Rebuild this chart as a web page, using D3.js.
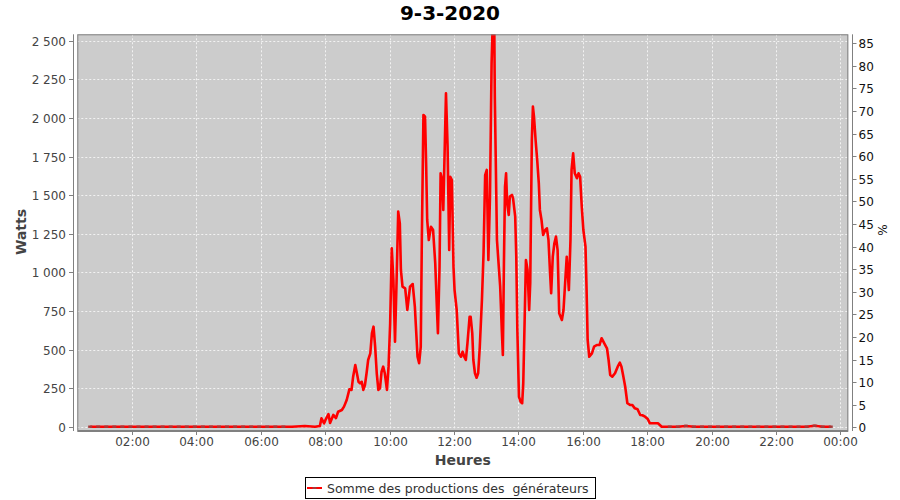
<!DOCTYPE html>
<html><head><meta charset="utf-8">
<script src="https://cdn.jsdelivr.net/npm/d3@7"></script>
<style>body{margin:0;background:#fff}svg{display:block}text{font-family:"DejaVu Sans",sans-serif}</style>
</head><body>
<svg id="c" width="900" height="500"></svg>
<script>
const title = "9-3-2020";
const yLabel = "Watts";
const xLabel = "Heures";
const y2Label = "%";
const legendLabel = "Somme des productions des  générateurs";
const xTicks = ["02:00","04:00","06:00","08:00","10:00","12:00","14:00","16:00","18:00","20:00","22:00","00:00"];
const yTicks = [0,250,500,750,1000,1250,1500,1750,2000,2250,2500];
const y2Ticks = [0,5,10,15,20,25,30,35,40,45,50,55,60,65,70,75,80,85];

const nightAMTimes = ["00:42","00:57","01:12","01:27","01:42","01:57","02:12","02:27","02:42","02:57","03:12","03:27","03:42","03:57","04:12","04:27","04:42","04:57","05:12","05:27","05:42","05:57","06:12","06:27","06:42"];
const nightAMWatts = [0,0,0,0,0,0,0,0,0,0,0,0,0,0,0,0,0,0,0,0,0,0,0,0,0];
const dayTimes = ["06:58","07:22","07:41","07:50","07:53","07:58","08:01","08:06","08:09","08:15","08:20","08:24","08:31","08:35","08:40","08:45","08:49","08:52","08:56","08:59","09:02","09:05","09:08","09:11","09:14","09:17","09:20","09:24","09:27","09:30","09:33","09:36","09:39","09:42","09:45","09:48","09:51","09:55","09:58","10:01","10:04","10:07","10:10","10:13","10:16","10:19","10:21","10:24","10:29","10:33","10:38","10:43","10:47","10:49","10:52","10:55","10:58","11:00","11:03","11:06","11:08","11:10","11:13","11:17","11:21","11:25","11:28","11:30","11:33","11:35","11:38","11:40","11:43","11:45","11:48","11:51","11:53","11:56","11:59","12:01","12:05","12:09","12:13","12:16","12:19","12:22","12:25","12:29","12:31","12:34","12:36","12:39","12:42","12:45","12:48","12:52","12:55","12:58","13:01","13:04","13:07","13:10","13:12","13:15","13:16","13:20","13:23","13:26","13:29","13:31","13:33","13:35","13:37","13:39","13:42","13:44","13:48","13:50","13:54","13:56","13:58","14:01","14:04","14:07","14:09","14:12","14:14","14:17","14:20","14:22","14:25","14:27","14:29","14:32","14:35","14:38","14:40","14:43","14:46","14:50","14:53","14:56","14:59","15:01","15:04","15:07","15:10","15:13","15:16","15:21","15:24","15:27","15:30","15:32","15:34","15:37","15:39","15:42","15:45","15:49","15:52","15:55","15:58","16:01","16:05","16:07","16:09","16:12","16:17","16:21","16:26","16:31","16:35","16:40","16:45","16:48","16:51","16:55","17:00","17:05","17:09","17:12","17:15","17:19","17:23","17:28","17:32","17:37","17:42","17:47","17:51","17:56","18:01","18:05","18:20","18:27"];
const dayWatts = [0,5,0,5,54,22,48,82,24,76,56,97,108,130,173,242,238,324,400,346,291,281,291,238,270,346,432,475,605,648,518,346,238,249,356,389,346,238,389,670,1155,950,551,950,1393,1317,1015,907,896,756,907,924,777,648,453,411,518,1209,2019,2008,1706,1339,1209,1295,1274,1058,777,605,1036,1641,1598,1404,1857,2159,1814,1144,1619,1598,1036,885,756,475,453,486,453,432,540,712,712,605,432,346,317,346,518,821,1123,1630,1663,1080,1490,2354,2600,2600,2137,1209,1058,907,626,464,1058,1554,1641,1447,1371,1490,1501,1479,1360,1101,626,194,162,152,281,756,1080,1015,756,929,1857,2073,2008,1857,1727,1576,1404,1339,1242,1274,1285,1209,994,864,1101,1188,1231,1144,734,691,756,929,1101,994,885,1209,1663,1771,1641,1609,1641,1619,1425,1274,1166,885,562,453,475,518,529,529,573,540,508,432,335,324,346,389,415,389,335,259,152,141,141,119,113,76,74,65,50,22,22,0];
const nightPMTimes = ["18:42","18:57","19:12","19:27","19:42","19:57","20:12","20:27","20:42","20:57","21:12","21:27","21:42","21:57","22:12","22:27","22:42","22:57","23:12","23:27","23:42"];
const nightPMWatts = [0,0,5,0,0,0,0,0,0,0,0,0,0,0,0,0,0,0,6,0,0];

const toMin = s => { const [h,m] = s.split(":").map(Number); return h*60+m; };
const nightAM = nightAMTimes.map((t,i)=>({t:toMin(t), v:nightAMWatts[i]}));
const day = dayTimes.map((t,i)=>({t:toMin(t), v:dayWatts[i]}));
const nightPM = nightPMTimes.map((t,i)=>({t:toMin(t), v:nightPMWatts[i]}));
const series = nightAM.concat(day, nightPM);
const markers = nightAM.concat(nightPM);

const svg = d3.select("#c");
const L = 77.3, R = 848.3, T = 34.3, B = 431;
const x = d3.scaleLinear().domain([18, 1454.7]).range([L, R]);
const y = d3.scaleLinear().domain([0, 2500]).range([426.7, 40.7]);
const y2 = d3.scaleLinear().domain([0, 85]).range([427.3, 43.3]);
const fr = d3.formatLocale({decimal:",", thousands:"\u00a0", grouping:[3], currency:["","€"]});
const fmt = fr.format(",d");

svg.append("rect").attr("x",L).attr("y",T).attr("width",R-L).attr("height",B-T).attr("fill","#cccccc");

const grid = svg.append("g").attr("stroke","#f2f2f2").attr("stroke-width",1).attr("stroke-dasharray","2,2");
yTicks.forEach(v=>{ const yy=Math.round(y(v))+0.5; grid.append("line").attr("x1",L).attr("x2",R).attr("y1",yy).attr("y2",yy);});
xTicks.forEach((s,i)=>{ const m = toMin(s) + (i===xTicks.length-1?1440:0); const xx=Math.round(x(m))+0.5; grid.append("line").attr("x1",xx).attr("x2",xx).attr("y1",T).attr("y2",B);});

svg.append("clipPath").attr("id","clip").append("rect").attr("x",L).attr("y",T).attr("width",R-L).attr("height",B-T);

const g = svg.append("g").attr("clip-path","url(#clip)");
const line = d3.line().x(d=>x(d.t)).y(d=>y(d.v));
g.append("path").datum(series).attr("d",line).attr("fill","none").attr("stroke","#ff0000").attr("stroke-width",2.6).attr("stroke-linejoin","round");
g.selectAll("rect.mk").data(markers).join("rect").attr("class","mk")
  .attr("x",d=>x(d.t)-2).attr("y",d=>y(d.v)-1.2).attr("width",4).attr("height",2.4).attr("fill","#a83838");

svg.append("rect").attr("x",L+0.5).attr("y",T+0.5).attr("width",R-L-1).attr("height",B-T-1).attr("fill","none").attr("stroke","#808080");

const ax = svg.append("g").attr("fill","#444").attr("font-size",12);
ax.append("line").attr("x1",73.5).attr("x2",73.5).attr("y1",T).attr("y2",B).attr("stroke","#808080");
yTicks.forEach(v=>{ const yy=Math.round(y(v))+0.5;
  ax.append("line").attr("x1",69).attr("x2",73.5).attr("y1",yy).attr("y2",yy).attr("stroke","#808080");
  ax.append("text").attr("x",66).attr("y",yy+4.5).attr("text-anchor","end").text(fmt(v));
});
ax.append("line").attr("x1",852.5).attr("x2",852.5).attr("y1",T).attr("y2",B).attr("stroke","#808080");
y2Ticks.forEach(v=>{ const yy=Math.round(y2(v))+0.5;
  ax.append("line").attr("x1",852.5).attr("x2",856.5).attr("y1",yy).attr("y2",yy).attr("stroke","#808080");
  ax.append("text").attr("x",858.5).attr("y",yy+4.5).attr("text-anchor","start").attr("fill","#111").text(v);
});
ax.append("line").attr("x1",L).attr("x2",R).attr("y1",B+0.5).attr("y2",B+0.5).attr("stroke","#808080");
xTicks.forEach((s,i)=>{ const m = toMin(s) + (i===xTicks.length-1?1440:0); const xx=Math.round(x(m))+0.5;
  ax.append("line").attr("x1",xx).attr("x2",xx).attr("y1",B).attr("y2",B+4).attr("stroke","#808080");
  ax.append("text").attr("x",xx).attr("y",B+15).attr("text-anchor","middle").text(s);
});

svg.append("text").attr("x",450).attr("y",20).attr("text-anchor","middle").attr("font-size",20).attr("font-weight","bold").attr("fill","#000").text(title);
svg.append("text").attr("transform","translate(26,232) rotate(-90)").attr("text-anchor","middle").attr("font-size",14).attr("font-weight","bold").attr("fill","#444").text(yLabel);
svg.append("text").attr("x",462.8).attr("y",465).attr("text-anchor","middle").attr("font-size",14).attr("font-weight","bold").attr("fill","#444").text(xLabel);
svg.append("text").attr("transform","translate(887,230) rotate(-90)").attr("text-anchor","middle").attr("font-size",12).attr("fill","#111").text(y2Label);

const lg = svg.append("g");
lg.append("rect").attr("x",305.5).attr("y",477.5).attr("width",290).attr("height",21).attr("fill","#fff").attr("stroke","#000");
lg.append("line").attr("x1",307).attr("x2",322).attr("y1",488).attr("y2",488).attr("stroke","#ff0000").attr("stroke-width",2);
lg.append("rect").attr("x",312.5).attr("y",487).attr("width",4).attr("height",2).attr("fill","#a83838");
lg.append("text").attr("x",327).attr("y",492.5).attr("font-size",12.5).attr("fill","#333").style("white-space","pre").text(legendLabel);
</script>
</body></html>
